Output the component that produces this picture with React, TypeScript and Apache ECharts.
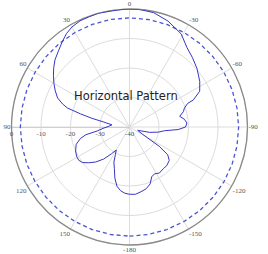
import React, { useEffect, useRef } from "react";
import * as echarts from "echarts";

// Antenna horizontal pattern: angle in degrees (0 = top, positive = counter-clockwise), gain in dB
const ANGLES = [
  -180, -175, -170, -165, -160, -156, -152, -147, -141, -136, -130, -126, -123, -119, -112, -105, -100, -96, -93, -90,
  -86, -82, -78, -74, -71, -68, -67, -63, -57, -49, -42, -36, -29, -20, -12, -5, 0, 5, 10, 15, 20, 25, 30, 34, 38, 43,
  48, 52, 56, 60, 64, 68, 71, 73, 75, 77, 79, 83, 88, 93, 97, 100, 103, 108, 114, 119, 123, 127, 131, 136, 141, 146,
  150, 153, 156, 160, 164, 168, 172, 176, 180,
];
const GAIN = [
  -17.2, -17.1, -17.7, -18.3, -19.5, -21.5, -22, -21.4, -21.8, -21.8, -22.4, -24, -28, -35, -37, -33, -30, -28, -23.5, -21,
  -20.5, -21.2, -22.6, -21, -20.3, -18.8, -16.5, -13.3, -11.6, -9.7, -8.2, -6.8, -3.9, -1.8, -0.4, 0, 0, -0.1, -0.2, 0,
  -0.2, -0.3, -0.9, -1.8, -3.1, -4.7, -6, -7.4, -8.9, -10.4, -12, -13.7, -16, -18, -22.8, -27, -31, -34, -33, -31, -29,
  -25, -23, -21, -20, -19.5, -19.4, -20, -21.5, -23.5, -26, -29, -31, -29.5, -27, -25, -22, -19.5, -18.2, -17.5, -17.2,
];

// -3 dB reference circle
const REF_LEVEL = -3;
const REF_ANGLES = [
  -180, -170, -160, -150, -140, -130, -120, -110, -100, -90, -80, -70, -60, -50, -40, -30, -20, -10, 0, 10, 20, 30, 40,
  50, 60, 70, 80, 90, 100, 110, 120, 130, 140, 150, 160, 170, 180,
];

const R_MIN = -40;
const R_MAX = 0;
const R_STEP = 10;
const TITLE = "Horizontal Pattern";

// map pattern angle (0 top, CCW positive) onto the angle axis that starts at the left (value 90)
const toAxis = (a: number) => (a < 90 ? a + 360 : a);

export default function App() {
  const ref = useRef<HTMLDivElement>(null);
  useEffect(() => {
    if (!ref.current) return;
    const chart = echarts.init(ref.current, null, { renderer: "svg" });
    const serif = "Liberation Serif";
    chart.setOption({
      animation: false,
      backgroundColor: "#ffffff",
      title: {
        text: TITLE,
        left: 74,
        top: 90,
        padding: 0,
        textStyle: { fontFamily: "DejaVu Sans", fontSize: 11.5, fontWeight: "normal", color: "#222" },
      },
      polar: { center: [129.5, 127], radius: 118 },
      angleAxis: {
        type: "value",
        min: 90,
        max: 450,
        interval: 30,
        startAngle: 180,
        clockwise: false,
        axisLine: { lineStyle: { color: "#8a8a8a", width: 1.3 } },
        axisTick: { show: false },
        splitLine: { lineStyle: { color: "#dcdcdc", width: 1 } },
        axisLabel: {
          margin: 1,
          fontSize: 7,
          lineHeight: 8,
          fontFamily: serif,
          color: "#555",
          formatter: (v: number) => {
            if (v === 450) return "";
            let a = v % 360;
            if (a >= 180) a -= 360;
            return String(a);
          },
        },
      },
      radiusAxis: {
        type: "value",
        min: R_MIN,
        max: R_MAX,
        interval: R_STEP,
        axisLine: { lineStyle: { color: "#cfcfcf" } },
        axisTick: { show: false },
        splitLine: { lineStyle: { color: "#dcdcdc", width: 1 } },
        axisLabel: { fontSize: 7, fontFamily: serif, color: "#555", margin: 3 },
      },
      series: [
        {
          type: "line",
          coordinateSystem: "polar",
          symbol: "none",
          data: REF_ANGLES.map((a) => [REF_LEVEL, toAxis(a)]),
          lineStyle: { color: "#4a55d0", width: 1.3, type: [4, 3] },
          silent: true,
        },
        {
          type: "line",
          coordinateSystem: "polar",
          symbol: "none",
          data: ANGLES.map((a, i) => [GAIN[i], toAxis(a)]),
          lineStyle: { color: "#3535c8", width: 1 },
          silent: true,
        },
      ],
    });
    return () => chart.dispose();
  }, []);
  return <div ref={ref} style={{ position: "absolute", left: 0, top: 0, width: 268, height: 254 }} />;
}
